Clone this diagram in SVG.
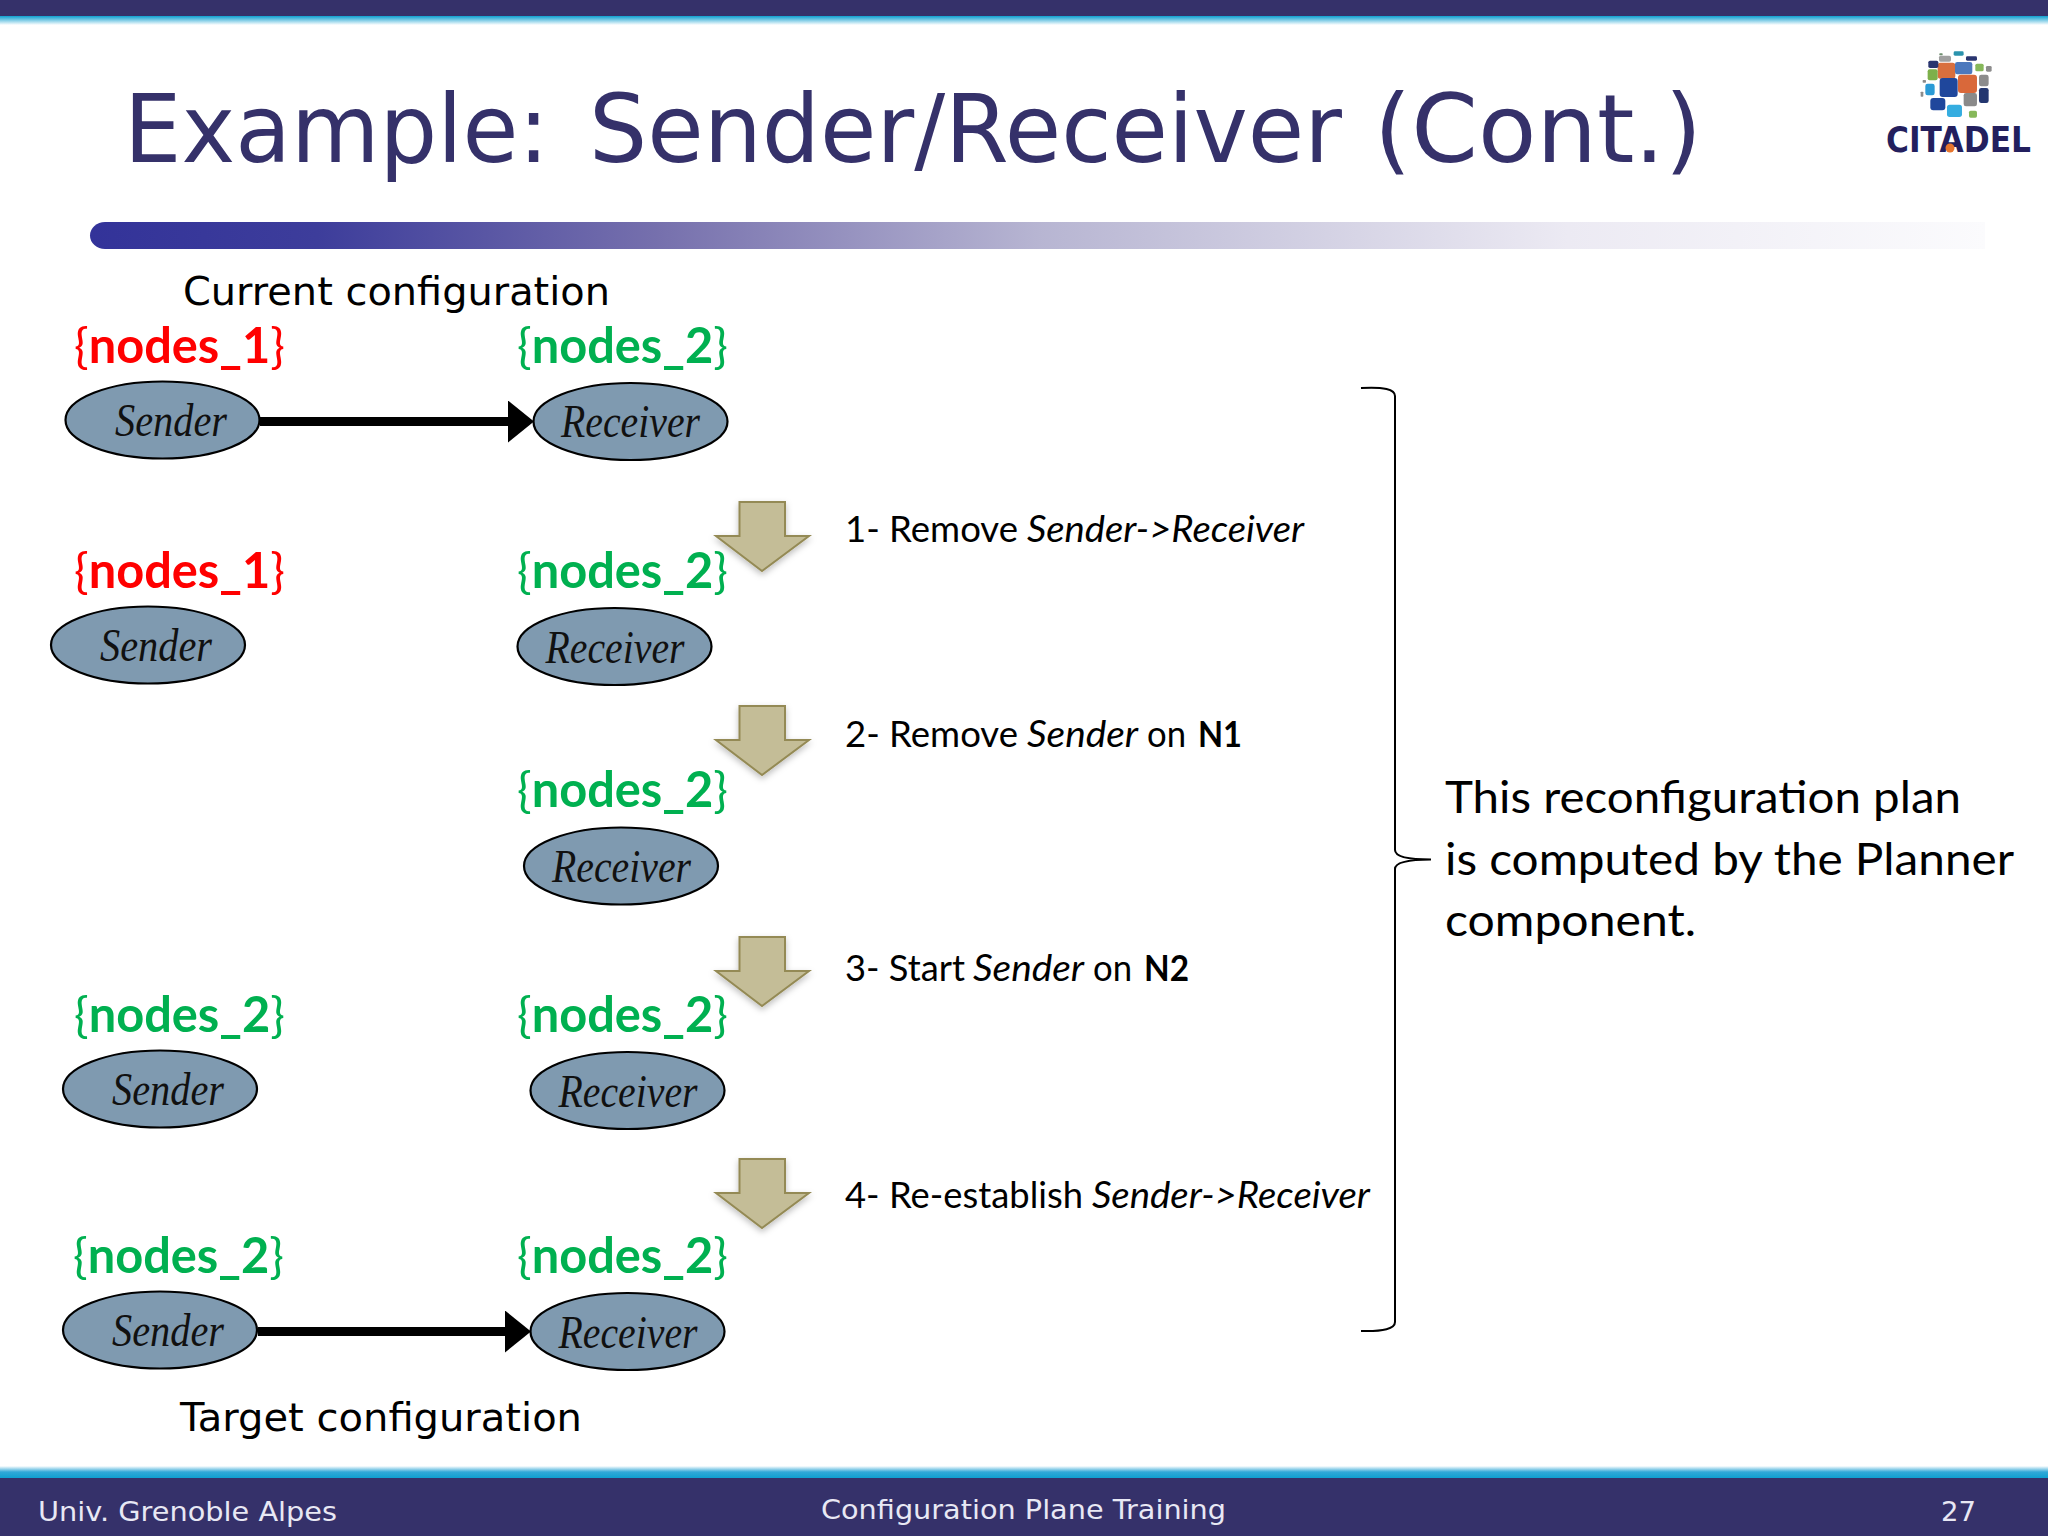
<svg xmlns="http://www.w3.org/2000/svg" width="2048" height="1536" viewBox="0 0 2048 1536">
<style>
text{font-family:"DejaVu Sans","Liberation Sans",sans-serif}
.nd{fill:#7f9ab0;stroke:#000;stroke-width:2.2}
.nt{font-family:"Liberation Serif",serif;font-style:italic;font-size:46px;fill:#111}
.set{font-family:Lato,"Liberation Sans",sans-serif;font-size:49px}
.set tspan{font-weight:700}
.set tspan.b{font-weight:400}
.red{fill:#ff0000}.grn{fill:#00b050}
.step{font-family:Lato,"Liberation Sans",sans-serif;font-size:36px;fill:#000}
.step .i{font-style:italic}
.step .s{font-weight:700}
.note{font-family:Lato,"Liberation Sans",sans-serif;font-size:45px;fill:#000}
.cfg{font-size:39px;fill:#000}
.foot{font-size:27px;fill:#e8e8f4}
.ba{fill:#c4bd97;stroke:#948a54;stroke-width:2;filter:url(#sh)}
</style>
<defs>
<linearGradient id="gt" x1="0" y1="0" x2="0" y2="1"><stop offset="0" stop-color="#0f9fd0"/><stop offset="1" stop-color="#ffffff"/></linearGradient>
<linearGradient id="gb" x1="0" y1="1" x2="0" y2="0"><stop offset="0" stop-color="#0f9fd0"/><stop offset="0.5" stop-color="#30a8d8"/><stop offset="1" stop-color="#ffffff"/></linearGradient>
<linearGradient id="pill" x1="0" y1="0" x2="1" y2="0"><stop offset="0" stop-color="#333399"/><stop offset="0.12" stop-color="#3d3d9b"/><stop offset="0.3" stop-color="#7670ad"/><stop offset="0.5" stop-color="#b7b5d2"/><stop offset="0.78" stop-color="#eceaf3"/><stop offset="1" stop-color="#fbfbfd"/></linearGradient>
<marker id="ah" markerUnits="userSpaceOnUse" markerWidth="26" markerHeight="42" refX="0" refY="21" orient="auto"><path d="M0 0L26 21L0 42Z" fill="#000"/></marker>
<filter id="sh" x="-20%" y="-20%" width="140%" height="140%"><feDropShadow dx="0" dy="3" stdDeviation="3" flood-color="#000" flood-opacity="0.25"/></filter>
<path id="blk" d="M739.500 0H785V34H809L762 69L716 34H739.500Z"/>
</defs>
<rect width="2048" height="1536" fill="#fff"/>
<g id="header">
<rect y="16" width="2048" height="9" fill="url(#gt)"/>
<rect width="2048" height="16" fill="#35316a"/>
<text y="162" font-size="94" fill="#35316a"><tspan x="124" textLength="425" lengthAdjust="spacingAndGlyphs">Example:</tspan> <tspan x="589" textLength="753" lengthAdjust="spacingAndGlyphs">Sender/Receiver</tspan> <tspan x="1374" textLength="328" lengthAdjust="spacingAndGlyphs">(Cont.)</tspan></text>
<path d="M105 222H1985V249H105A15 13.500 0 0 1 105 222Z" fill="url(#pill)"/>
</g>
<g id="logo">
<g transform="translate(1800 0) scale(.3333)">
<rect x="413" y="188" width="53" height="48" rx="8" fill="#d96f3e"/>
<rect x="465" y="186" width="52" height="37" rx="7" fill="#4c78bd"/>
<rect x="383" y="208" width="30" height="33" rx="6" fill="#7db04a"/>
<rect x="419" y="234" width="54" height="57" rx="9" fill="#1f479c"/>
<rect x="474" y="224" width="57" height="55" rx="9" fill="#d9683a"/>
<rect x="537" y="224" width="29" height="35" rx="7" fill="#8c8c8c"/>
<rect x="376" y="251" width="28" height="35" rx="7" fill="#2b9bd6"/>
<rect x="491" y="279" width="40" height="40" rx="7" fill="#8a8a8a"/>
<rect x="391" y="294" width="45" height="37" rx="9" fill="#1f479c"/>
<rect x="537" y="264" width="29" height="45" rx="7" fill="#23366f"/>
<rect x="441" y="314" width="45" height="37" rx="8" fill="#35ade0"/>
<rect x="507" y="332" width="24" height="21" rx="5" fill="#86b85a"/>
<rect x="526" y="191" width="25" height="23" rx="5" fill="#86b85a"/>
<rect x="417" y="167" width="36" height="18" rx="5" fill="#a0a0a0"/>
<rect x="385" y="182" width="30" height="22" rx="5" fill="#2a3570"/>
<rect x="461" y="154" width="30" height="13" rx="4" fill="#2b93ad"/>
<rect x="498" y="169" width="33" height="13" rx="4" fill="#2a3570"/>
<rect x="558" y="198" width="17" height="17" rx="4" fill="#8c8c8c"/>
<rect x="418" y="160" width="10" height="6" rx="2" fill="#6f8f6f"/>
<rect x="362" y="275" width="8" height="15" rx="2" fill="#8c8c8c"/>
<rect x="368" y="240" width="10" height="8" rx="2" fill="#8c8c8c"/>
</g>
<text x="1886" y="152" font-size="35" font-weight="700" fill="#231f5e" textLength="145" lengthAdjust="spacingAndGlyphs">CITADEL</text>
<circle cx="1950" cy="148" r="4.500" fill="#e8762d"/>
</g>
<text id="current" class="cfg" x="183" y="305" textLength="427" lengthAdjust="spacingAndGlyphs">Current configuration</text>
<text id="target" class="cfg" x="180" y="1431" textLength="402" lengthAdjust="spacingAndGlyphs">Target configuration</text>
<g id="set-labels">
<text class="set red" x="74" y="363" textLength="211" lengthAdjust="spacingAndGlyphs"><tspan class="b">{</tspan><tspan>nodes_1</tspan><tspan class="b">}</tspan></text>
<text class="set grn" x="517" y="363" textLength="211" lengthAdjust="spacingAndGlyphs"><tspan class="b">{</tspan><tspan>nodes_2</tspan><tspan class="b">}</tspan></text>
<text class="set red" x="74" y="588" textLength="211" lengthAdjust="spacingAndGlyphs"><tspan class="b">{</tspan><tspan>nodes_1</tspan><tspan class="b">}</tspan></text>
<text class="set grn" x="517" y="588" textLength="211" lengthAdjust="spacingAndGlyphs"><tspan class="b">{</tspan><tspan>nodes_2</tspan><tspan class="b">}</tspan></text>
<text class="set grn" x="517" y="807" textLength="211" lengthAdjust="spacingAndGlyphs"><tspan class="b">{</tspan><tspan>nodes_2</tspan><tspan class="b">}</tspan></text>
<text class="set grn" x="74" y="1032" textLength="211" lengthAdjust="spacingAndGlyphs"><tspan class="b">{</tspan><tspan>nodes_2</tspan><tspan class="b">}</tspan></text>
<text class="set grn" x="517" y="1032" textLength="211" lengthAdjust="spacingAndGlyphs"><tspan class="b">{</tspan><tspan>nodes_2</tspan><tspan class="b">}</tspan></text>
<text class="set grn" x="73" y="1273" textLength="211" lengthAdjust="spacingAndGlyphs"><tspan class="b">{</tspan><tspan>nodes_2</tspan><tspan class="b">}</tspan></text>
<text class="set grn" x="517" y="1273" textLength="211" lengthAdjust="spacingAndGlyphs"><tspan class="b">{</tspan><tspan>nodes_2</tspan><tspan class="b">}</tspan></text>
</g>
<g id="connectors">
<line x1="260" y1="421.500" x2="508" y2="421.500" stroke="#000" stroke-width="9" marker-end="url(#ah)"/>
<line x1="258" y1="1331.500" x2="505" y2="1331.500" stroke="#000" stroke-width="9" marker-end="url(#ah)"/>
</g>
<g id="sender1"><ellipse class="nd" cx="162.500" cy="420" rx="97" ry="38.500"/><text class="nt" x="115" y="436" textLength="112" lengthAdjust="spacingAndGlyphs">Sender</text></g>
<g id="receiver1"><ellipse class="nd" cx="630.500" cy="421.500" rx="97" ry="38.500"/><text class="nt" x="561" y="437" textLength="139" lengthAdjust="spacingAndGlyphs">Receiver</text></g>
<g id="sender2"><ellipse class="nd" cx="148" cy="645" rx="97" ry="38.500"/><text class="nt" x="100" y="661" textLength="112" lengthAdjust="spacingAndGlyphs">Sender</text></g>
<g id="receiver2"><ellipse class="nd" cx="614.500" cy="646.500" rx="97" ry="38.500"/><text class="nt" x="545.500" y="662.500" textLength="139" lengthAdjust="spacingAndGlyphs">Receiver</text></g>
<g id="receiver3"><ellipse class="nd" cx="621" cy="866" rx="97" ry="38.500"/><text class="nt" x="552" y="882" textLength="139" lengthAdjust="spacingAndGlyphs">Receiver</text></g>
<g id="sender4"><ellipse class="nd" cx="160" cy="1089" rx="97" ry="38.500"/><text class="nt" x="112" y="1105" textLength="112" lengthAdjust="spacingAndGlyphs">Sender</text></g>
<g id="receiver4"><ellipse class="nd" cx="627.500" cy="1090.500" rx="97" ry="38.500"/><text class="nt" x="558.500" y="1106.500" textLength="139" lengthAdjust="spacingAndGlyphs">Receiver</text></g>
<g id="sender5"><ellipse class="nd" cx="160" cy="1330" rx="97" ry="38.500"/><text class="nt" x="112" y="1346" textLength="112" lengthAdjust="spacingAndGlyphs">Sender</text></g>
<g id="receiver5"><ellipse class="nd" cx="627.500" cy="1331.500" rx="97" ry="38.500"/><text class="nt" x="558.500" y="1347.500" textLength="139" lengthAdjust="spacingAndGlyphs">Receiver</text></g>
<g id="step-arrows">
<use href="#blk" class="ba" y="502"/>
<use href="#blk" class="ba" y="706"/>
<use href="#blk" class="ba" y="937"/>
<use href="#blk" class="ba" y="1159"/>
</g>
<g id="steps">
<text class="step" y="542"><tspan x="845" textLength="173" lengthAdjust="spacingAndGlyphs">1- Remove</tspan> <tspan class="i" x="1027" textLength="277" lengthAdjust="spacingAndGlyphs">Sender-&gt;Receiver</tspan></text>
<text class="step" y="747"><tspan x="845" textLength="173" lengthAdjust="spacingAndGlyphs">2- Remove</tspan> <tspan class="i" x="1027" textLength="111" lengthAdjust="spacingAndGlyphs">Sender</tspan> <tspan x="1147" textLength="39" lengthAdjust="spacingAndGlyphs">on</tspan> <tspan class="s" x="1198" textLength="44" lengthAdjust="spacingAndGlyphs">N1</tspan></text>
<text class="step" y="981"><tspan x="845" textLength="120" lengthAdjust="spacingAndGlyphs">3- Start</tspan> <tspan class="i" x="973" textLength="111" lengthAdjust="spacingAndGlyphs">Sender</tspan> <tspan x="1093" textLength="39" lengthAdjust="spacingAndGlyphs">on</tspan> <tspan class="s" x="1144" textLength="45" lengthAdjust="spacingAndGlyphs">N2</tspan></text>
<text class="step" y="1208"><tspan x="845" textLength="238" lengthAdjust="spacingAndGlyphs">4- Re-establish</tspan> <tspan class="i" x="1092" textLength="278" lengthAdjust="spacingAndGlyphs">Sender-&gt;Receiver</tspan></text>
</g>
<path id="bracket" d="M1361 388Q1395 386 1395 396V850Q1395 859.500 1431 859.500Q1395 859.500 1395 869V1322Q1395 1332 1361 1331" fill="none" stroke="#000" stroke-width="2"/>
<g id="note">
<text class="note" x="1445" y="813" textLength="516" lengthAdjust="spacingAndGlyphs">This reconfiguration plan</text>
<text class="note" x="1445" y="875" textLength="569" lengthAdjust="spacingAndGlyphs">is computed by the Planner</text>
<text class="note" x="1445" y="936" textLength="251" lengthAdjust="spacingAndGlyphs">component.</text>
</g>
<g id="footer">
<rect y="1466" width="2048" height="12" fill="url(#gb)"/>
<rect y="1478" width="2048" height="58" fill="#35316a"/>
<text class="foot" x="38" y="1521" textLength="299" lengthAdjust="spacingAndGlyphs">Univ. Grenoble Alpes</text>
<text class="foot" x="821" y="1519" textLength="405" lengthAdjust="spacingAndGlyphs">Configuration Plane Training</text>
<text class="foot" x="1941" y="1521" textLength="35" lengthAdjust="spacingAndGlyphs">27</text>
</g>
</svg>
